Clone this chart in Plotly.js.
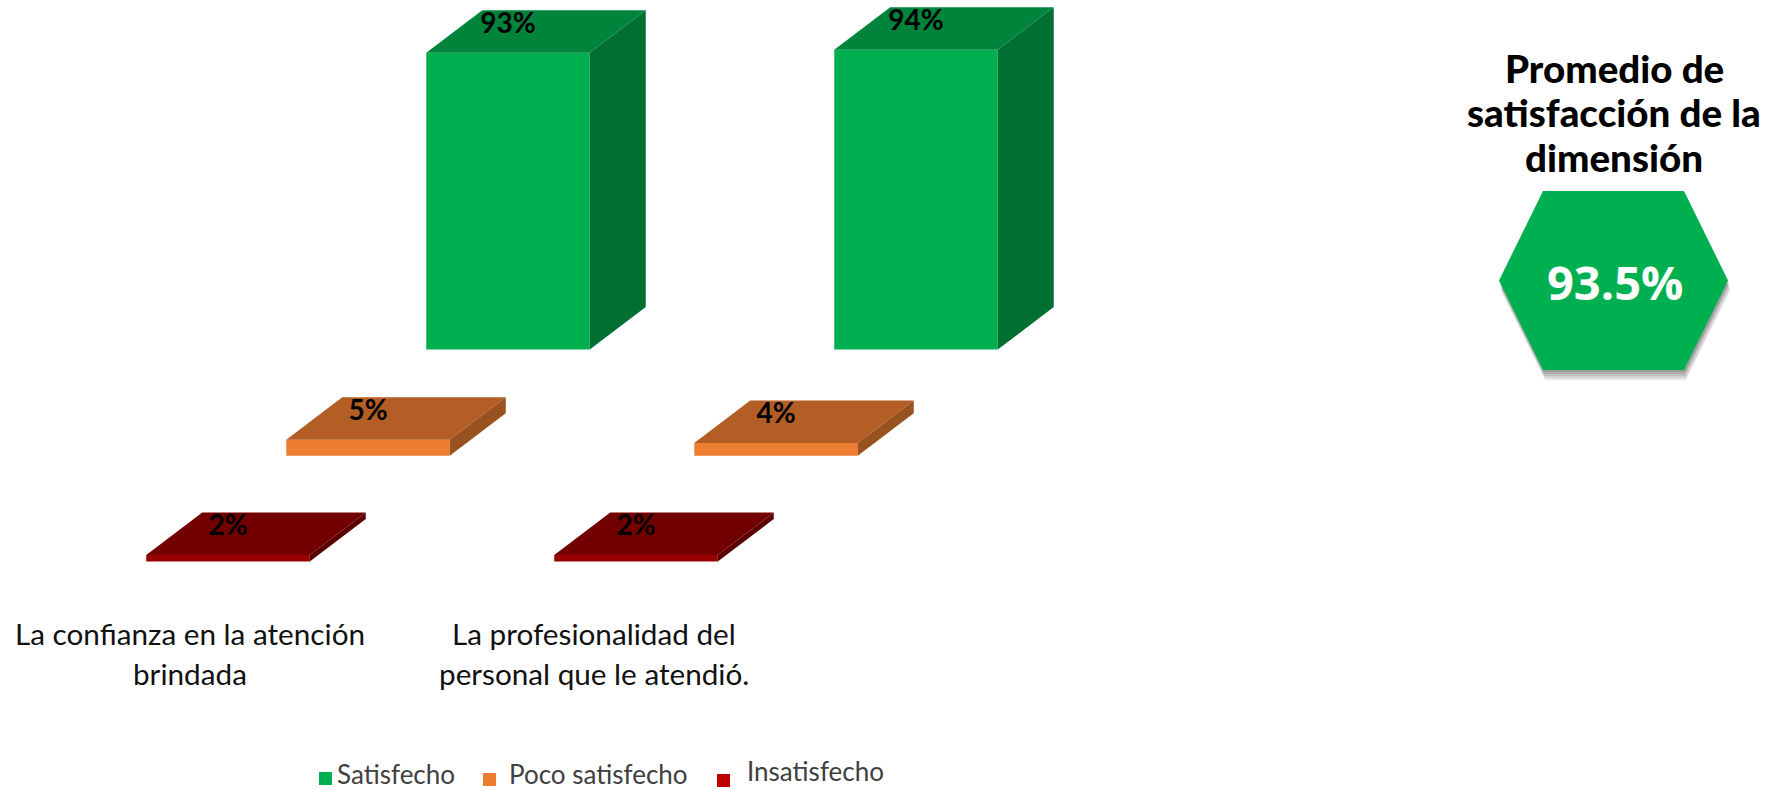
<!DOCTYPE html>
<html lang="es">
<head>
<meta charset="utf-8">
<title>Promedio de satisfacción de la dimensión</title>
<script src="https://cdn.plot.ly/plotly-3.0.1.min.js"></script>
<style>html,body{margin:0;padding:0;background:#fff;overflow:hidden}#chart{width:1767px;height:790px}</style>
</head>
<body>
<div id="chart"></div>
<script>
// Survey results per question (percent of respondents)
const categoryLines = [
  ['La confianza en la atención', 'brindada'],
  ['La profesionalidad del', 'personal que le atendió.']
];
const satisfecho = [93, 94];
const pocoSatisfecho = [5, 4];
const insatisfecho = [2, 2];
const seriesNames = ['Satisfecho', 'Poco satisfecho', 'Insatisfecho'];
const titleLines = ['Promedio de', 'satisfacción de la', 'dimensión'];

// Page geometry in pixels
const W = 1767, H = 790;
const pxPerCategory = 408, pxPerPercent = 3.19;
const categoryZeroPx = 368;
const barWidth = 163.5 / pxPerCategory;
const depthX = 56 / pxPerCategory, depthY = 42.5 / pxPerPercent;
const labelLift = 27 / pxPerPercent;

// Each series sits on its own shelf: same scale, different baseline
const shelves = [
  {name: seriesNames[0], values: satisfecho,     axis: 'y',  layoutKey: 'yaxis',  baseline: 349.5, shift:  140 / pxPerCategory,
   front: '#00B050', top: '#00843C', side: '#007032', swatch: '#00B050'},
  {name: seriesNames[1], values: pocoSatisfecho, axis: 'y2', layoutKey: 'yaxis2', baseline: 455.7, shift: 0,
   front: '#ED7D31', top: '#B35E24', side: '#985220', swatch: '#ED7D31'},
  {name: seriesNames[2], values: insatisfecho,   axis: 'y3', layoutKey: 'yaxis3', baseline: 561.5, shift: -140 / pxPerCategory,
   front: '#980000', top: '#720000', side: '#5A0000', swatch: '#C00000'}
];

const px = x => x / W;
const py = y => 1 - y / H;

const traces = [];
const layout = {
  width: W, height: H,
  margin: {l: 0, r: 0, t: 0, b: 0},
  paper_bgcolor: '#fff', plot_bgcolor: '#fff',
  showlegend: false,
  barmode: 'overlay',
  font: {family: 'Lato, sans-serif', color: '#000'},
  xaxis: {range: [-categoryZeroPx / pxPerCategory, (W - categoryZeroPx) / pxPerCategory], visible: false, fixedrange: true},
  annotations: [],
  shapes: []
};

shelves.forEach((s, si) => {
  layout[s.layoutKey] = {
    range: [-(H - s.baseline) / pxPerPercent, s.baseline / pxPerPercent],
    visible: false, fixedrange: true,
    ...(si ? {overlaying: 'y'} : {})
  };
  const xs = s.values.map((_, c) => c + s.shift);

  // Front faces
  traces.push({
    type: 'bar', name: s.name, x: xs, y: s.values, yaxis: s.axis, xaxis: 'x',
    width: barWidth, marker: {color: s.front, line: {width: 0}},
    hoverinfo: 'name+y'
  });

  // Top and side faces, projected back from each bar's value
  s.values.forEach((v, c) => {
    const l = xs[c] - barWidth / 2, r = xs[c] + barWidth / 2;
    traces.push({
      type: 'scatter', mode: 'lines', yaxis: s.axis, xaxis: 'x', hoverinfo: 'skip',
      x: [l, r, r + depthX, l + depthX, l], y: [v, v, v + depthY, v + depthY, v],
      fill: 'toself', fillcolor: s.top, line: {width: 0, color: s.top}
    });
    traces.push({
      type: 'scatter', mode: 'lines', yaxis: s.axis, xaxis: 'x', hoverinfo: 'skip',
      x: [r, r + depthX, r + depthX, r, r], y: [0, depthY, v + depthY, v, 0],
      fill: 'toself', fillcolor: s.side, line: {width: 0, color: s.side}
    });
  });

  // Value labels
  traces.push({
    type: 'scatter', mode: 'text', yaxis: s.axis, xaxis: 'x', hoverinfo: 'skip',
    x: xs, y: s.values.map(v => v + labelLift),
    text: s.values.map(v => v + '%'), textposition: 'middle center',
    textfont: {family: 'Lato, sans-serif', size: 28, color: '#000', weight: 700}
  });
});

// Question labels under the bars
const labelCentersPx = [190, 594];
categoryLines.forEach((lines, c) => {
  lines.forEach((text, i) => {
    layout.annotations.push({
      xref: 'paper', yref: 'paper', x: px(labelCentersPx[c]), y: py(633 + i * 40),
      xanchor: 'center', yanchor: 'middle', showarrow: false, text,
      font: {family: 'Lato, sans-serif', size: 29.7, color: '#111'}
    });
  });
});

// Legend row
const legendItems = [
  {swatchX: 319, swatchY: 772, textX: 335, textY: 773.5},
  {swatchX: 483, swatchY: 773, textX: 507, textY: 773.5},
  {swatchX: 717, swatchY: 774, textX: 745, textY: 771}
];
legendItems.forEach((it, i) => {
  layout.shapes.push({
    type: 'rect', xref: 'paper', yref: 'paper', line: {width: 0},
    x0: px(it.swatchX), x1: px(it.swatchX + 13), y0: py(it.swatchY), y1: py(it.swatchY + 13),
    fillcolor: shelves[i].swatch
  });
  layout.annotations.push({
    xref: 'paper', yref: 'paper', x: px(it.textX), y: py(it.textY),
    xanchor: 'left', yanchor: 'middle', showarrow: false, text: seriesNames[i],
    font: {family: 'Lato, sans-serif', size: 26, color: '#404040'}
  });
});

// Dimension average badge, with a soft drop shadow built from stacked outlines
const average = satisfecho.reduce((a, b) => a + b, 0) / satisfecho.length;
const hexagon = (dx, dy) => [[1499, 280.5], [1543, 191], [1684, 191], [1728, 280.5], [1684, 370], [1543, 370]]
  .map(([x, y], i) => (i ? 'L' : 'M') + px(x + dx) + ',' + py(y + dy)).join(' ') + ' Z';
[[2, 10], [2, 8], [1, 6], [1, 4], [1, 2]].forEach(([dx, dy]) => {
  layout.shapes.push({type: 'path', xref: 'paper', yref: 'paper', path: hexagon(dx, dy),
    fillcolor: 'rgba(0,0,0,0.09)', line: {width: 0}});
});
layout.shapes.push({type: 'path', xref: 'paper', yref: 'paper', path: hexagon(0, 0),
  fillcolor: '#00B050', line: {width: 0}});
layout.annotations.push({
  xref: 'paper', yref: 'paper', x: px(1615), y: py(282), xanchor: 'center', yanchor: 'middle',
  showarrow: false, text: average.toFixed(1) + '%',
  font: {family: '"Open Sans", sans-serif', size: 47, color: '#fff', weight: 700}
});
titleLines.forEach((text, i) => {
  layout.annotations.push({
    xref: 'paper', yref: 'paper', x: px(1614), y: py(68 + i * 44.5), xanchor: 'center', yanchor: 'middle',
    showarrow: false, text,
    font: {family: 'Lato, sans-serif', size: 38.5, color: '#000', weight: 900}
  });
});

Plotly.newPlot('chart', traces, layout, {displayModeBar: false, responsive: false});
</script>
</body>
</html>
